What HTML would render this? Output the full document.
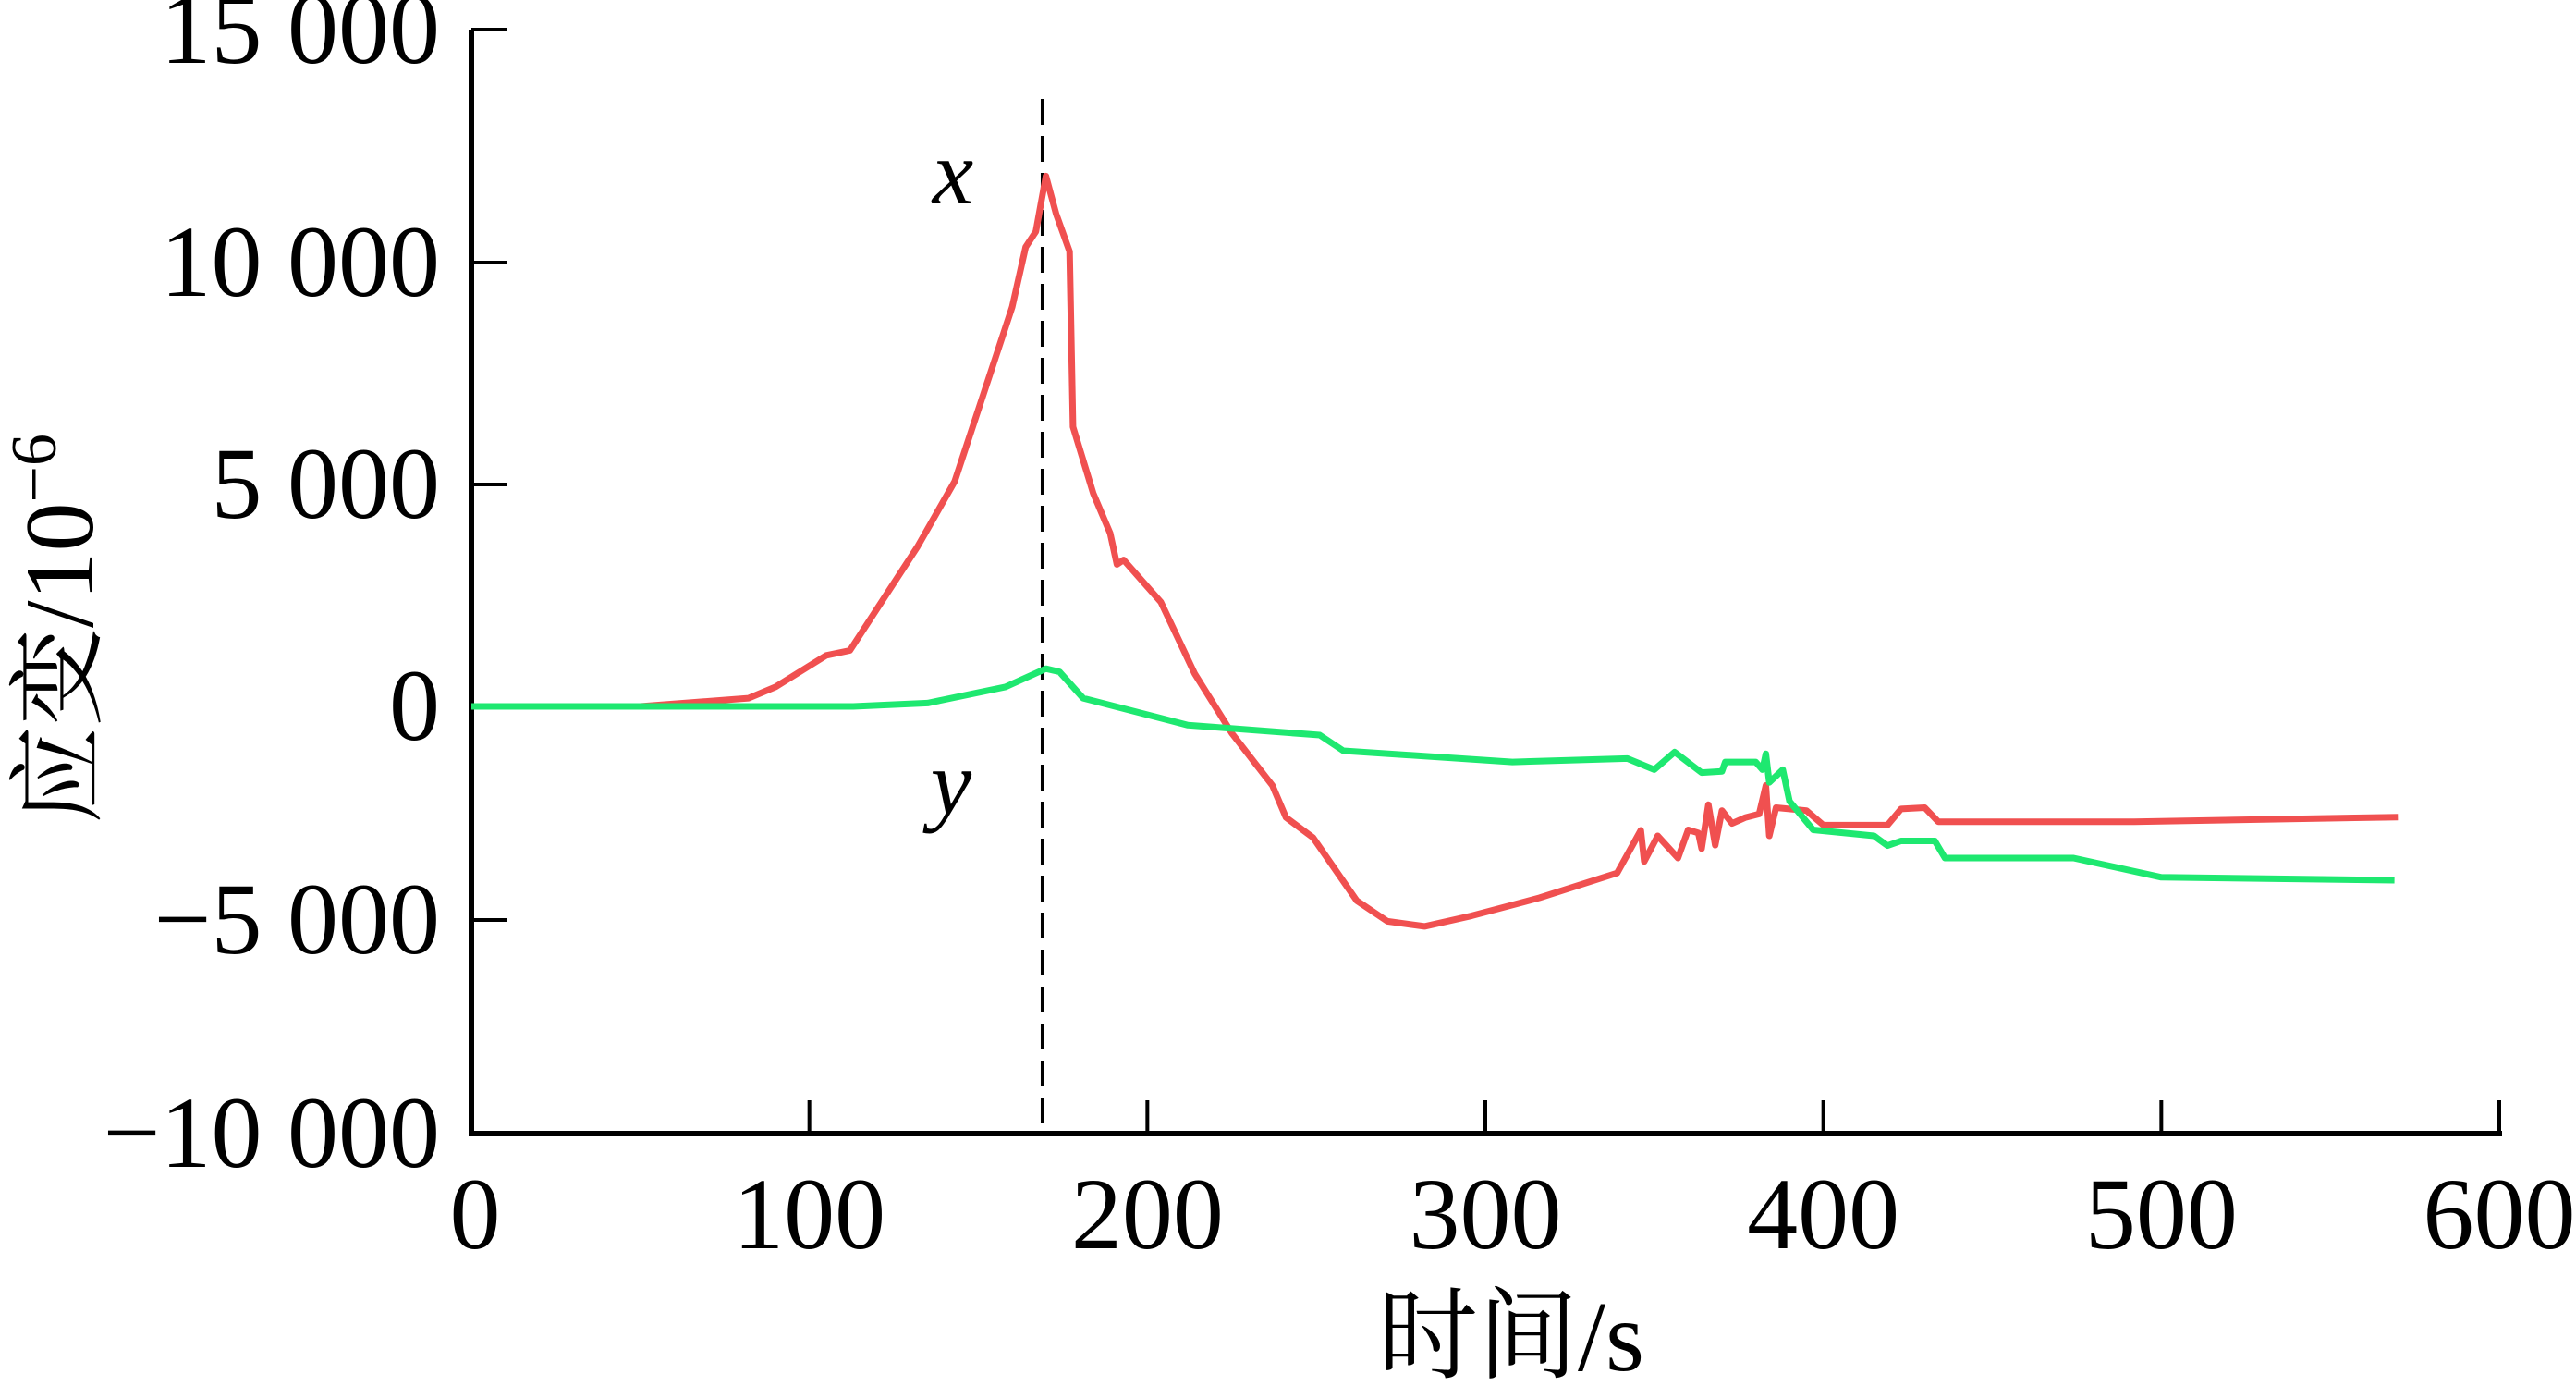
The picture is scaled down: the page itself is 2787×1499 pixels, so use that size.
<!DOCTYPE html>
<html><head><meta charset="utf-8"><style>
html,body{margin:0;padding:0;background:#fff;}
svg{display:block;}
text{font-family:"Liberation Serif","Noto Serif CJK SC",serif;fill:#000;}
</style></head><body>
<svg id="chart" width="2787" height="1499" viewBox="0 0 2787 1499" xmlns="http://www.w3.org/2000/svg"></svg>
<script>
const xTicks=[0,100,200,300,400,500,600];
const yTicks=[15000,10000,5000,0,-5000,-10000];
const yTickLabels=["15 000","10 000","5 000","0","\u22125 000","\u221210 000"];
const markerTime=169;
const xTime=[0,50,82,90,105,112,132,143,160,164,167,170,173,177,178,184,189,191,193,204,214,225,237,241,249,262,271,282,296,316,339,346,347,351,357,360,363,364,366,368,370,373,377,381,383,384,386,395,400,419,423,430,434,492,570];
const xStrain=[0,0,185,440,1150,1260,3600,5070,9000,10350,10700,11950,11100,10250,6300,4800,3900,3200,3300,2350,740,-630,-1850,-2600,-3070,-4550,-5030,-5150,-4900,-4480,-3900,-2900,-3630,-3030,-3550,-2890,-2960,-3330,-2300,-3250,-2440,-2740,-2600,-2520,-1850,-3030,-2370,-2440,-2780,-2780,-2400,-2370,-2700,-2700,-2590];
const yTime=[0,113,135,158,170,174,181,212,251,258,308,342,350,356,364,370,371,380,382,383,384,388,390,397,415,419,423,433,436,474,500,569];
const yStrain=[0,0,74,440,850,780,185,-440,-670,-1040,-1300,-1220,-1480,-1070,-1550,-1520,-1300,-1300,-1480,-1110,-1780,-1480,-2220,-2890,-3030,-3260,-3150,-3150,-3550,-3550,-4000,-4070];

const NS="http://www.w3.org/2000/svg";
const svg=document.getElementById('chart');
const X0=510,X1=2704,Y0=764,YTOP10=284,YBOT=1226;
function sx(t){return X0+(t-0)*(X1-X0)/600;}
function sy(v){return v>=0?Y0-v*(Y0-YTOP10)/10000:Y0-v*(YBOT-Y0)/10000;}
function mk(tag,attrs){const e=document.createElementNS(NS,tag);for(const k in attrs)e.setAttribute(k,attrs[k]);svg.appendChild(e);return e;}

let e=mk('line',{x1:X0,y1:sy(15000)-12,x2:X0,y2:YBOT+3,stroke:'#000','stroke-width':6});


e=mk('line',{x1:X0-3,y1:YBOT,x2:X1+3,y2:YBOT,stroke:'#000','stroke-width':6});



yTicks.forEach((v,i)=>{
  const y=v===15000?sy(v)-12:sy(v);
  if(v!==-10000){
    const t=mk('line',{x1:X0,y1:y,x2:X0+38,y2:y,stroke:'#000','stroke-width':4});
    
    
  }
  const l=mk('text',{x:476,y:y+36,'text-anchor':'end','font-size':110});
  l.textContent=yTickLabels[i];
  
  
});
xTicks.forEach(v=>{
  const x=sx(v);
  if(v!==0){
    const t=mk('line',{x1:x,y1:YBOT,x2:x,y2:YBOT-36,stroke:'#000','stroke-width':4});
    
    
  }
  const l=mk('text',{x:x+(v===0?4:0),y:1350,'text-anchor':'middle','font-size':110});
  l.textContent=String(v);
  
  
});

e=mk('line',{x1:sx(markerTime),y1:107,x2:sx(markerTime),y2:YBOT,stroke:'#000','stroke-width':4,'stroke-dasharray':'28,12'});



function series(ts,vs,color,name){
  const d=ts.map((t,i)=>(i?'L':'M')+sx(t).toFixed(1)+','+sy(vs[i]).toFixed(1)).join(' ');
  const p=mk('path',{d:d,fill:'none',stroke:color,'stroke-width':7,'stroke-linejoin':'round'});
  
  
}
series(xTime,xStrain,'#f05050','x-strain-line');
series(yTime,yStrain,'#1ee870','y-strain-line');

e=mk('text',{x:1031,y:220,'text-anchor':'middle','font-size':100,'font-style':'italic'});
e.textContent='x';


e=mk('text',{x:1029,y:880,'text-anchor':'middle','font-size':100,'font-style':'italic'});
e.textContent='y';



e=mk('text',{x:1635,y:1482,'text-anchor':'middle','font-size':108});
e.textContent='时间/s';



const yt=mk('text',{x:0,y:0,'text-anchor':'middle','font-size':106,transform:'translate(100,680) rotate(-90)'});


yt.appendChild(document.createTextNode('应变/10'));
const sup=document.createElementNS(NS,'tspan');
sup.setAttribute('dy','-40');sup.setAttribute('font-size','70');
sup.textContent='\u22126';
yt.appendChild(sup);
</script>
</body></html>
